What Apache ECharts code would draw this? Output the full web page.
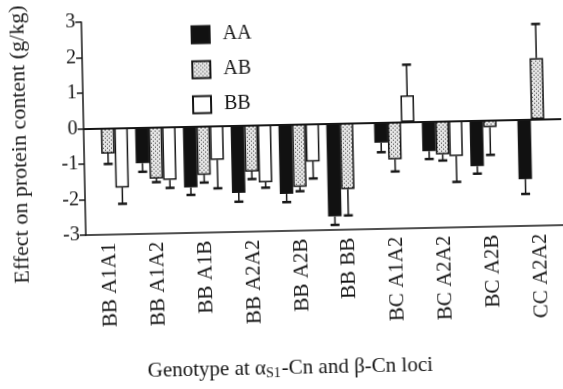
<!DOCTYPE html>
<html>
<head>
<meta charset="utf-8">
<script src="https://cdn.jsdelivr.net/npm/echarts@6/dist/echarts.min.js"></script>
<style>
  html, body { margin: 0; padding: 0; background: #fff; overflow: hidden; }
  #main { width: 563px; height: 389px; transform: rotate(-1.2deg); }
</style>
</head>
<body>
<div id="main"></div>
<script>
// genotype combinations at the alpha-s1 and beta casein loci
const categories = ['BB A1A1', 'BB A1A2', 'BB A1B', 'BB A2A2', 'BB A2B', 'BB BB', 'BC A1A2', 'BC A2A2', 'BC A2B', 'CC A2A2'];
const yTicks = [-3, -2, -1, 0, 1, 2, 3];

// effect on protein content (g/kg) and error bar length, per kappa-Cn genotype
const aaValues = [null, -1.01, -1.72, -1.90, -1.96, -2.62, -0.57, -0.84, -1.29, -1.68];
const aaErrors = [null, 0.24, 0.21, 0.25, 0.23, 0.24, 0.27, 0.22, 0.21, 0.42];
const abValues = [-0.72, -1.45, -1.37, -1.31, -1.77, -1.86, -1.05, -0.94, -0.20, 1.72];
const abErrors = [0.29, 0.10, 0.22, 0.21, 0.12, 0.74, 0.34, 0.17, 0.78, 0.96];
const bbValues = [-1.68, -1.49, -0.96, -1.62, -1.06, null, 0.75, -0.99, null, null];
const bbErrors = [0.46, 0.23, 0.80, 0.15, 0.48, null, 0.86, 0.73, null, null];

const font = 'Liberation Serif';
const ink = '#161616';
const barWidth = 13.5;

// stippled fill for the AB bars
const dots = document.createElement('canvas');
dots.width = 4;
dots.height = 4;
const dctx = dots.getContext('2d');
dctx.fillStyle = '#e4e4e4';
dctx.fillRect(0, 0, 4, 4);
dctx.fillStyle = '#3a3a3a';
dctx.fillRect(0, 0, 1, 1);
dctx.fillRect(2, 2, 1, 1);

function errorSeries(values, errors, slot) {
  const data = [];
  values.forEach((v, i) => {
    if (v !== null) data.push([i, v, errors[i]]);
  });
  return {
    type: 'custom',
    silent: true,
    z: 1,
    data: data,
    encode: {x: 0, y: 1},
    renderItem: function (params, api) {
      const i = api.value(0);
      const v = api.value(1);
      const e = api.value(2);
      const p0 = api.coord([i, v]);
      const p1 = api.coord([i, v + (v < 0 ? -e : e)]);
      const x = p0[0] + slot * barWidth;
      return {
        type: 'group',
        children: [
          {type: 'line', shape: {x1: x, y1: p0[1], x2: x, y2: p1[1]}, style: {stroke: ink, lineWidth: 1.5}},
          {type: 'line', shape: {x1: x - 4.5, y1: p1[1], x2: x + 4.5, y2: p1[1]}, style: {stroke: ink, lineWidth: 2.5}}
        ]
      };
    }
  };
}

const chart = echarts.init(document.getElementById('main'));
chart.setOption({
  animation: false,
  backgroundColor: '#fff',
  textStyle: {fontFamily: font, color: ink},
  grid: {left: 85, right: -6, top: 18, bottom: 158},
  legend: {
    data: ['AA', 'AB', 'BB'],
    orient: 'vertical',
    left: 189,
    top: 18,
    icon: 'rect',
    itemWidth: 18,
    itemHeight: 17,
    itemGap: 15,
    selectedMode: false,
    textStyle: {fontFamily: font, fontSize: 20, color: ink, padding: [0, 0, 0, 8]}
  },
  graphic: [
    {
      type: 'text',
      left: 10,
      top: 0,
      rotation: Math.PI / 2,
      style: {text: 'Effect on protein content (g/kg)', font: '22px "Liberation Serif"', fill: ink}
    },
    {
      type: 'text',
      left: 144,
      top: 358,
      style: {
        text: 'Genotype at α{sub|S1}-Cn and β-Cn loci',
        font: '21px "Liberation Serif"',
        fill: ink,
        rich: {sub: {fontFamily: font, fontSize: 14, fill: ink, padding: [10, 1, 0, 0]}}
      }
    }
  ],
  xAxis: {
    type: 'category',
    data: categories,
    axisLine: {onZero: false, lineStyle: {color: ink, width: 1.5}},
    axisTick: {alignWithLabel: true, length: 6, lineStyle: {color: ink, width: 1.5}},
    axisLabel: {rotate: 90, fontFamily: font, fontSize: 21, color: ink, margin: 8}
  },
  yAxis: {
    type: 'value',
    min: yTicks[0],
    max: yTicks[yTicks.length - 1],
    interval: 1,
    axisLine: {show: true, lineStyle: {color: ink, width: 1.5}},
    axisTick: {show: true, length: 6, lineStyle: {color: ink, width: 1.5}},
    axisLabel: {fontFamily: font, fontSize: 20, color: ink, margin: 6},
    splitLine: {show: false}
  },
  series: [
    {
      name: 'AA',
      type: 'bar',
      data: aaValues,
      barWidth: barWidth,
      barGap: '0%',
      itemStyle: {color: '#111', borderColor: ink, borderWidth: 1.5},
      markLine: {
        silent: true,
        symbol: 'none',
        label: {show: false},
        lineStyle: {color: ink, width: 1.8, type: 'solid'},
        data: [{yAxis: 0}]
      }
    },
    {
      name: 'AB',
      type: 'bar',
      data: abValues,
      barWidth: barWidth,
      barGap: '0%',
      itemStyle: {color: {image: dots, repeat: 'repeat'}, borderColor: ink, borderWidth: 1.5}
    },
    {
      name: 'BB',
      type: 'bar',
      data: bbValues,
      barWidth: barWidth,
      barGap: '0%',
      itemStyle: {color: '#fff', borderColor: ink, borderWidth: 1.5}
    },
    errorSeries(aaValues, aaErrors, -1),
    errorSeries(abValues, abErrors, 0),
    errorSeries(bbValues, bbErrors, 1)
  ]
});
</script>
</body>
</html>
